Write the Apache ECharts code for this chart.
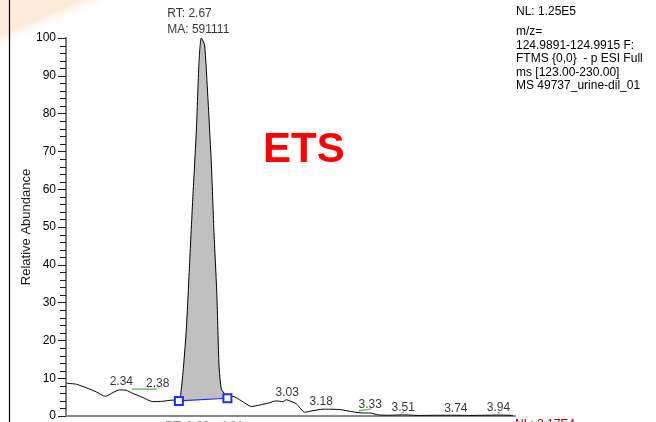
<!DOCTYPE html>
<html>
<head>
<meta charset="utf-8">
<script src="https://cdn.jsdelivr.net/npm/echarts@6/dist/echarts.min.js"></script>
<style>
  html, body { margin: 0; padding: 0; background: #fff; }
  #chart { width: 656px; height: 422px; }
</style>
</head>
<body>
<div id="chart"></div>
<script>
// Extracted ion chromatogram (retention time in minutes, relative abundance in %)
const retentionTime = [
  2.091, 2.134, 2.176, 2.219, 2.259, 2.291, 2.319, 2.348, 2.376, 2.419,
  2.462, 2.505, 2.548, 2.575, 2.583, 2.594, 2.606, 2.620, 2.634, 2.649,
  2.660, 2.670, 2.684, 2.698, 2.713, 2.724, 2.737, 2.746, 2.756, 2.774,
  2.782, 2.806, 2.842, 2.885, 2.920, 2.956, 2.992, 3.020, 3.035, 3.049,
  3.078, 3.113, 3.149, 3.192, 3.221, 3.264, 3.321, 3.364, 3.392, 3.428,
  3.478, 3.534, 3.607, 3.693, 3.757, 3.822, 3.886, 3.947, 4.006
];
const abundance = [
  8.7, 8.4, 7.5, 6.4, 5.2, 6.2, 6.9, 6.8, 6.0, 4.9,
  3.8, 3.9, 4.2, 4.0, 6.3, 13.2, 23.0, 40.6, 58.1, 75.7,
  93.3, 100, 98.2, 84.5, 66.9, 49.3, 31.7, 13.5, 7.1, 5.6,
  5.0, 5.2, 4.0, 2.5, 2.9, 3.4, 4.0, 3.8, 4.3, 4.0,
  3.2, 1.0, 1.4, 1.8, 1.8, 1.7, 1.1, 0.8, 0.8, 0.3,
  0.2, 0.3, 0.15, 0.2, 0.2, 0.15, 0.2, 0.25, 0.15
];

// Integrated peak: apex and baseline end points
const apexRT = 2.67;
const apexHeight = 100;
const apexArea = 591111;
const baselineRT = [2.574, 2.782];
const baselineValue = [4.0, 4.7];

// Labelled minor peaks
const peakRT = [2.34, 2.38, 3.03, 3.18, 3.33, 3.51, 3.74, 3.94];
const peakHeight = [6.9, 6.5, 4.3, 1.8, 1.0, 0.3, 0.2, 0.25];

// Short green marks drawn under some peak labels
const markRT = [[2.372, 2.479], [3.347, 3.400], [3.528, 3.538], [3.940, 3.952]];
const markValue = [[7.1, 7.1], [1.4, 1.85], [0.8, 1.1], [1.0, 0.7]];

// Axis range and ticks
const rtMin = 2.09, rtMax = 4.015;
const yMin = 0, yMax = 100, yStep = 10, yMinorStep = 2;

// Scan header text
const nlTop = 'NL: 1.25E5';
const scanInfo = ['m/z=', '124.9891-124.9915 F:', 'FTMS {0,0}  - p ESI Full', 'ms [123.00-230.00]', 'MS 49737_urine-dil_01'];
const nlBottom = 'NL: 2.17E4';
const rtRangeText = 'RT: 2.09 - 4.01';
const sampleTag = 'ETS';

const FONT = '"Liberation Sans", Arial, Helvetica, sans-serif';
const INK = '#000000';

const curve = retentionTime.map((t, i) => [t, abundance[i]]);

// polygon of the integrated area: baseline start, curve points, baseline end
const peakArea = [[baselineRT[0], baselineValue[0]]]
  .concat(curve.filter(p => p[0] > baselineRT[0] && p[0] < baselineRT[1]))
  .concat([[baselineRT[1], baselineValue[1]]]);

// per-label nudges so neighbouring labels do not collide
const labelNudge = [[-3, 0], [24, 0.5], [2, 0.6], [1, 0], [15, 0], [6, 1], [5, 1], [1, 1]];

const peakLabels = peakRT.map((t, i) => ({
  value: [t, peakHeight[i]],
  label: { offset: labelNudge[i] }
}));
peakLabels.push({
  value: [apexRT, apexHeight],
  label: {
    formatter: 'RT: ' + apexRT.toFixed(2) + '\nMA: ' + apexArea,
    align: 'left',
    lineHeight: 15.5,
    offset: [-34, 1.3]
  }
});

const greenMarks = [];
markRT.forEach((pair, i) => {
  if (i > 0) greenMarks.push([null, null]);
  greenMarks.push([pair[0], markValue[i][0]]);
  greenMarks.push([pair[1], markValue[i][1]]);
});

// minor tick positions between the labelled ticks
const minorTickValues = [];
for (let v = yMin + yMinorStep; v < yMax; v += yMinorStep) {
  if (v % yStep !== 0) minorTickValues.push([rtMin, v]);
}

const chart = echarts.init(document.getElementById('chart'), null, { renderer: 'canvas' });

chart.setOption({
  animation: false,
  backgroundColor: '#ffffff',
  textStyle: { fontFamily: FONT },
  grid: { left: 66, top: 38, width: 449, height: 379, containLabel: false },
  xAxis: {
    type: 'value',
    min: rtMin,
    max: rtMax,
    axisLine: { show: true, onZero: false, lineStyle: { color: '#8a8a8a', width: 2 } },
    axisTick: { show: false },
    axisLabel: { show: false },
    splitLine: { show: false }
  },
  yAxis: {
    type: 'value',
    min: yMin,
    max: yMax,
    interval: yStep,
    name: 'Relative Abundance',
    nameLocation: 'middle',
    nameRotate: 90,
    nameGap: 33,
    nameMoveOverlap: false,
    nameTextStyle: { fontSize: 13, color: '#1a1a1a', fontFamily: FONT },
    axisLine: { show: true, lineStyle: { color: '#7d7d7d', width: 2 } },
    axisTick: { show: true, inside: false, length: 8, lineStyle: { color: '#1a1a1a', width: 1 } },
    axisLabel: { fontSize: 12, color: INK, margin: 10, fontFamily: FONT },
    splitLine: { show: false }
  },
  series: [
    {
      // short ticks on the left of the y axis every 2 %
      type: 'custom',
      z: 2,
      silent: true,
      clip: false,
      data: minorTickValues,
      renderItem: function (params, api) {
        const p = api.coord([api.value(0), api.value(1)]);
        const y = Math.round(p[1]) + 0.5;
        return {
          type: 'line',
          shape: { x1: p[0] - 6, y1: y, x2: p[0], y2: y },
          style: { stroke: '#1a1a1a', lineWidth: 1 }
        };
      }
    },
    {
      // grey filled area of the integrated peak
      type: 'custom',
      z: 1,
      silent: true,
      data: [[apexRT, apexHeight / 2]],
      renderItem: function (params, api) {
        return {
          type: 'polygon',
          shape: { points: peakArea.map(p => api.coord(p)) },
          style: { fill: '#c0c0c0', stroke: null }
        };
      }
    },
    {
      type: 'line',
      z: 3,
      data: curve,
      showSymbol: false,
      symbol: 'none',
      smooth: 0.2,
      lineStyle: { color: '#000', width: 1 },
      silent: true
    },
    {
      type: 'line',
      z: 4,
      data: greenMarks,
      connectNulls: false,
      showSymbol: false,
      symbol: 'none',
      lineStyle: { color: '#4fb34f', width: 1.2 },
      silent: true
    },
    {
      // integration baseline with its end markers
      type: 'line',
      z: 5,
      data: baselineRT.map((t, i) => [t, baselineValue[i]]),
      symbol: 'emptyRect',
      symbolSize: 8,
      showSymbol: true,
      lineStyle: { color: '#1f2ff0', width: 1.2 },
      itemStyle: { color: '#1f2ff0', borderColor: '#1f2ff0', borderWidth: 1.2 },
      silent: true
    },
    {
      type: 'scatter',
      z: 6,
      symbolSize: 0,
      data: peakLabels,
      silent: true,
      label: {
        show: true,
        position: 'top',
        distance: 2,
        fontSize: 12,
        color: INK,
        fontFamily: FONT,
        formatter: p => p.value[0].toFixed(2)
      }
    }
  ],
  graphic: [
    {
      // peach corner band of the slide background
      type: 'polygon',
      z: -10,
      silent: true,
      shape: { points: [[0, 0], [118, 0], [0, 48]] },
      style: {
        fill: {
          type: 'linear', x: 0, y: 0, x2: 18, y2: 42, global: true,
          colorStops: [
            { offset: 0, color: 'rgba(253,234,218,0.9)' },
            { offset: 0.7, color: 'rgba(253,231,212,0.85)' },
            { offset: 1, color: 'rgba(255,255,255,0)' }
          ]
        }
      }
    },
    {
      type: 'line',
      z: 10,
      silent: true,
      shape: { x1: 9.5, y1: 0, x2: 9.5, y2: 422 },
      style: { stroke: '#000', lineWidth: 1.2 }
    },
    {
      type: 'text',
      z: 10,
      x: 516, y: 12,
      style: { text: nlTop, font: '12px ' + FONT, fill: INK, verticalAlign: 'middle' }
    },
    {
      type: 'text',
      z: 10,
      x: 516, y: 25.3,
      style: { text: scanInfo.join('\n'), font: '12px ' + FONT, fill: INK, lineHeight: 13.4, verticalAlign: 'top' }
    },
    {
      type: 'text',
      z: 10,
      x: 263, y: 150,
      style: { text: sampleTag, font: 'bold 42px ' + FONT, fill: '#ff0000', verticalAlign: 'middle' }
    },
    {
      type: 'text',
      z: 10,
      x: 515, y: 418.5,
      style: { text: nlBottom, font: '12px ' + FONT, fill: '#b00000', verticalAlign: 'top' }
    },
    {
      type: 'text',
      z: 10,
      x: 165, y: 420.5,
      style: { text: rtRangeText, font: '12px ' + FONT, fill: '#8a8a8a', verticalAlign: 'top' }
    }
  ]
});
</script>
</body>
</html>
